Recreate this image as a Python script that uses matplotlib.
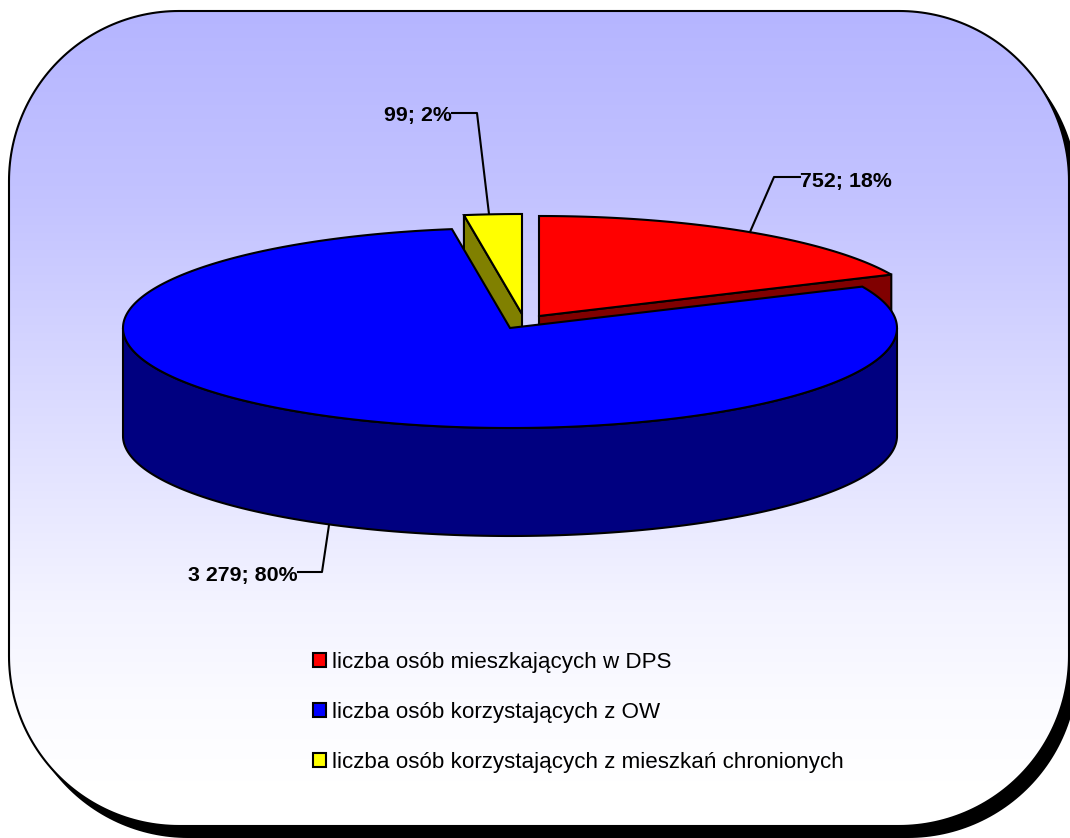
import numpy as np
import matplotlib
matplotlib.use("Agg")
import matplotlib.pyplot as plt
from matplotlib.patches import Polygon, Patch

plt.rcParams['font.family'] = ['Liberation Sans', 'DejaVu Sans']

# Data
categories = ["liczba osób mieszkających w DPS",
              "liczba osób korzystających z OW",
              "liczba osób korzystających z mieszkań chronionych"]
values = [752, 3279, 99]
value_labels = ["752; 18%", "3 279; 80%", "99; 2%"]
top_colors = ["#ff0000", "#0000ff", "#ffff00"]
side_colors = ["#800000", "#000080", "#808000"]

# Pie geometry (pixels)
RX, RY, DEPTH = 387, 100, 108
centres = [(539, 316), (510, 328), (522, 314)]
LW = 1.5

fig = plt.figure(figsize=(10.70, 8.38), dpi=100)
ax = fig.add_axes([0, 0, 1, 1])
ax.set_axis_off()


def rounded_box(x0, y0, x1, y1, r, n=60):
    t = np.linspace(0, np.pi / 2, n)
    pts = []
    for cx, cy, a0 in [(x1 - r, y0 + r, 0), (x1 - r, y1 - r, 1),
                       (x0 + r, y1 - r, 2), (x0 + r, y0 + r, 3)]:
        a = t + a0 * np.pi / 2
        pts.append(np.c_[cx + r * np.sin(a), cy - r * np.cos(a)])
    return np.vstack(pts)


def rim(c, a0, a1, n=160):
    a = np.radians(np.linspace(a0, a1, n))
    return np.c_[c[0] + RX * np.sin(a), c[1] - RY * np.cos(a)]


BOX = (9, 11, 1069, 826)
ax.add_patch(Polygon(rounded_box(BOX[0] + 9, BOX[1] + 12, BOX[2] + 9, BOX[3] + 12, 170),
                     closed=True, fc="black", ec="black", lw=0, zorder=1))
box_pts = rounded_box(*BOX, 170)
box_fill = Polygon(box_pts, closed=True, fc="none", ec="none", zorder=2)
ax.add_patch(box_fill)
ys = np.linspace(BOX[1], BOX[3], 512)
red_green = np.interp(ys, [11, 200, 400, 600, 700, 780], [181, 195, 219, 243, 251, 255]) / 255
img = np.stack([red_green, red_green, np.ones_like(ys)], axis=1)[:, None, :]
im = ax.imshow(img, extent=(BOX[0], BOX[2], BOX[3], BOX[1]), aspect="auto",
               zorder=2, interpolation="bilinear")
im.set_clip_path(box_fill)
ax.add_patch(Polygon(box_pts, closed=True, fc="none", ec="black", lw=LW, zorder=3))
ax.set_xlim(0, 1070)
ax.set_ylim(838, 0)

total = sum(values)
ang = np.concatenate([[0], np.cumsum(values) / total * 360])

# Red slice: cut face, then top
c = centres[0]
e = rim(c, ang[1], ang[1], 1)[0]
ax.add_patch(Polygon([c, e, (e[0], e[1] + DEPTH), (c[0], c[1] + DEPTH)], closed=True,
                     fc=side_colors[0], ec="black", lw=LW, zorder=4))
ax.add_patch(Polygon(np.vstack([[c], rim(c, ang[0], ang[1])]), closed=True,
                     fc=top_colors[0], ec="black", lw=LW, zorder=5))

# Yellow slice
c = centres[2]
e = rim(c, ang[2], ang[2], 1)[0]
ax.add_patch(Polygon([c, e, (e[0], e[1] + DEPTH), (c[0], c[1] + DEPTH)], closed=True,
                     fc=side_colors[2], ec="black", lw=LW, zorder=4))
ax.add_patch(Polygon(np.vstack([[c], rim(c, ang[2], ang[3])]), closed=True,
                     fc=top_colors[2], ec="black", lw=LW, zorder=5))

# Blue slice: outer wall, then top
c = centres[1]
wall = rim(c, 90, 270)
ax.add_patch(Polygon(np.vstack([wall, wall[::-1] + [0, DEPTH]]), closed=True,
                     fc=side_colors[1], ec="black", lw=LW, zorder=6))
ax.add_patch(Polygon(np.vstack([[c], rim(c, ang[1], ang[2], 400)]), closed=True,
                     fc=top_colors[1], ec="black", lw=LW, zorder=7))

# Data labels and leader lines
label_font = dict(fontsize=15.4, fontweight="bold", color="black", va="center", zorder=9)
ax.plot([800, 774, 750], [177, 177, 232], color="black", lw=LW, zorder=8)
ax.text(800, 181, value_labels[0], ha="left", **label_font)
ax.plot([298, 322, 329], [572, 572, 525], color="black", lw=LW, zorder=8)
ax.text(298, 575, value_labels[1], ha="right", **label_font)
ax.plot([452, 477, 489], [113, 113, 214], color="black", lw=LW, zorder=4)
ax.text(452, 116, value_labels[2], ha="right", **label_font)

# Legend
handles = [Patch(fc=fc, ec="black", lw=LW) for fc in top_colors]
leg = ax.legend(handles, categories, loc="upper left",
                bbox_to_anchor=(313 / 1070, 1 - 652 / 838), bbox_transform=ax.transAxes,
                frameon=False, fontsize=16.1, borderpad=0, borderaxespad=0,
                handlelength=0.56, handleheight=0.56, handletextpad=0.27,
                labelspacing=1.29)
leg.set_zorder(9)

fig.savefig("out.png", dpi=100)
